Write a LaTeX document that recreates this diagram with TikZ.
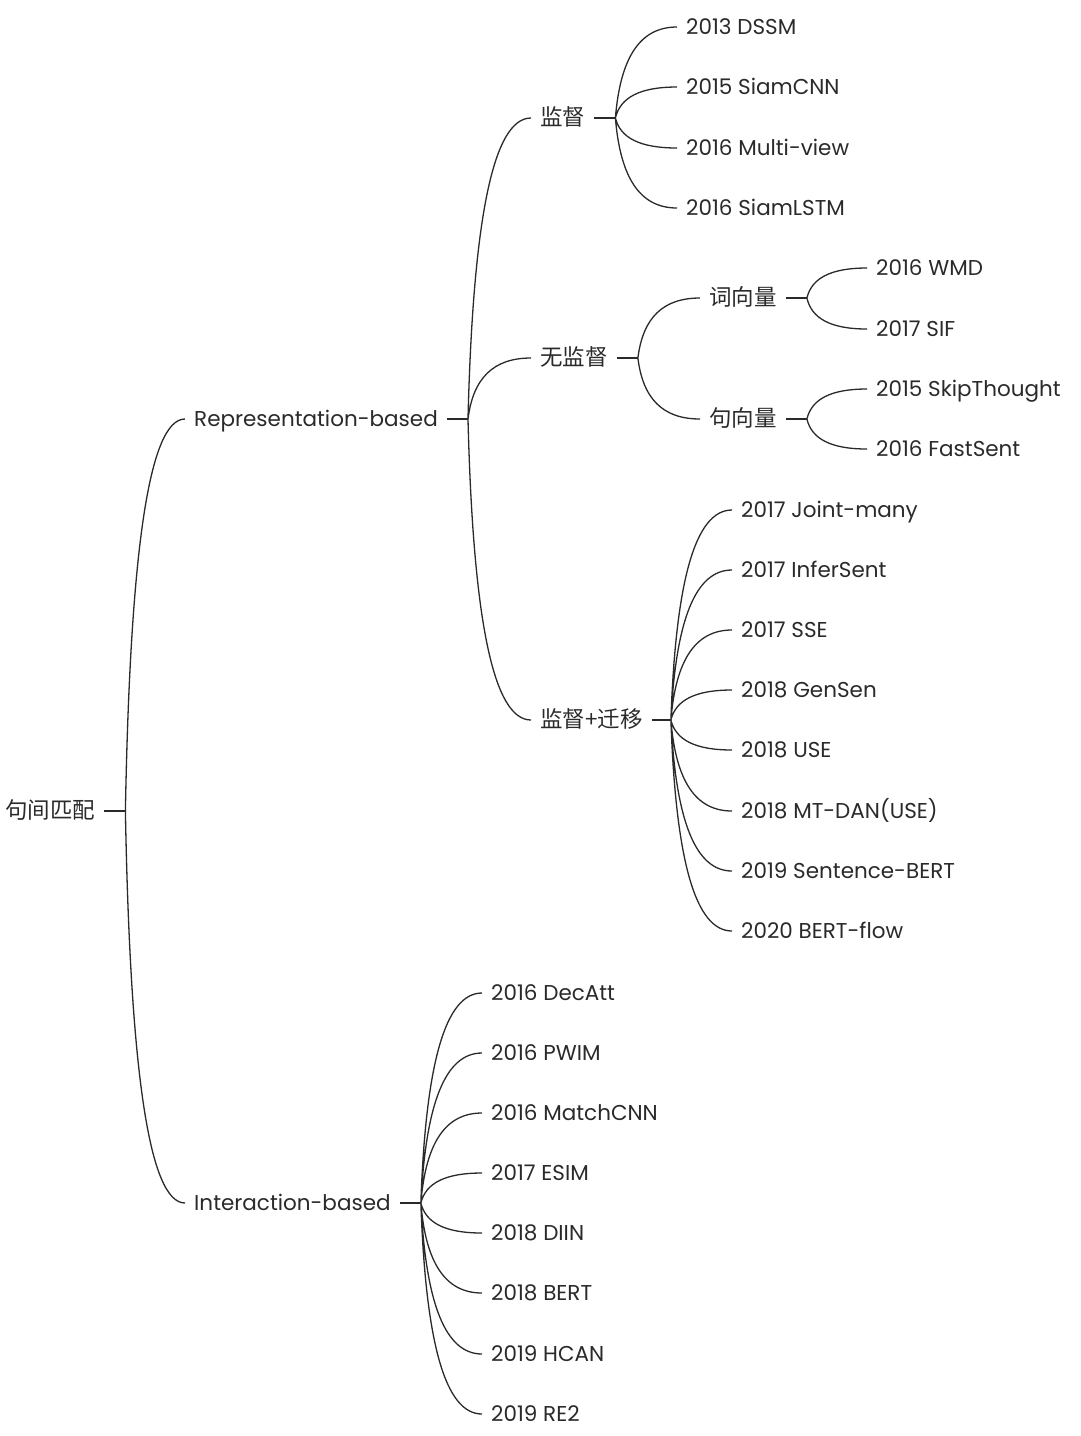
\documentclass[tikz,border=0pt]{standalone}
\usepackage{fontspec}
\setmainfont{Poppins}
\newfontfamily\cjk{Noto Sans CJK SC}
\usetikzlibrary{calc}
\definecolor{ink}{HTML}{2A2A2A}

\begin{document}
\begin{tikzpicture}[x=1pt,y=-1pt]
  \tikzstyle{topic}=[anchor=west,inner xsep=9pt,inner ysep=0pt,text height=16pt,text depth=2pt,text=ink,font=\fontsize{21.5}{25}\selectfont]
  \tikzstyle{zh}=[topic,font=\cjk\fontsize{22.5}{25}\selectfont]
  \tikzstyle{twig}=[to path={let \p1=(\tikztostart), \p2=(\tikztotarget) in
    .. controls (\x1+0.08*\x2-0.08*\x1, \y1+0.667*\y2-0.667*\y1) and (0.4*\x2+0.6*\x1, \y2) .. (\tikztotarget)}]
  \useasboundingbox (0,0) rectangle (1080,1436);
  % root and first level
  \node[zh] (R) at (-4,811) {句间匹配};
  \node[topic] (A_1) at (185,419) {Representation-based};
  \node[topic] (A_2) at (185,1203) {Interaction-based};
  % representation-based
  \node[zh] (B_1) at (531,118) {监督};
  \node[zh] (B_2) at (531,358) {无监督};
  \node[zh] (B_3) at (531,720) {监督+迁移};
  \node[topic] (C_1) at (677,27)  {2013 DSSM};
  \node[topic] (C_2) at (677,87)  {2015 SiamCNN};
  \node[topic] (C_3) at (677,148) {2016 Multi-view};
  \node[topic] (C_4) at (677,208) {2016 SiamLSTM};
  \node[zh] (D_1) at (700,298) {词向量};
  \node[zh] (D_2) at (700,419) {句向量};
  \node[topic] (E_1) at (867,268) {2016 WMD};
  \node[topic] (E_2) at (867,329) {2017 SIF};
  \node[topic] (E_3) at (867,389) {2015 SkipThought};
  \node[topic] (E_4) at (867,449) {2016 FastSent};
  \node[topic] (F_1) at (732,510) {2017 Joint-many};
  \node[topic] (F_2) at (732,570) {2017 InferSent};
  \node[topic] (F_3) at (732,630) {2017 SSE};
  \node[topic] (F_4) at (732,690) {2018 GenSen};
  \node[topic] (F_5) at (732,750) {2018 USE};
  \node[topic] (F_6) at (732,811) {2018 MT-DAN(USE)};
  \node[topic] (F_7) at (732,871) {2019 Sentence-BERT};
  \node[topic] (F_8) at (732,931) {2020 BERT-flow};
  % interaction-based
  \node[topic] (G_1) at (482,993)  {2016 DecAtt};
  \node[topic] (G_2) at (482,1053) {2016 PWIM};
  \node[topic] (G_3) at (482,1113) {2016 MatchCNN};
  \node[topic] (G_4) at (482,1173) {2017 ESIM};
  \node[topic] (G_5) at (482,1233) {2018 DIIN};
  \node[topic] (G_6) at (482,1293) {2018 BERT};
  \node[topic] (G_7) at (482,1354) {2019 HCAN};
  \node[topic] (G_8) at (482,1414) {2019 RE2};
  % junctions
  \coordinate (R_j)   at ([xshift=21pt]R.east);
  \coordinate (A_1j)  at ([xshift=21pt]A_1.east);
  \coordinate (A_2j)  at ([xshift=21pt]A_2.east);
  \coordinate (B_1j)  at ([xshift=21pt]B_1.east);
  \coordinate (B_2j)  at ([xshift=21pt]B_2.east);
  \coordinate (B_3j)  at ([xshift=19pt]B_3.east);
  \coordinate (D_1j)  at ([xshift=21pt]D_1.east);
  \coordinate (D_2j)  at ([xshift=21pt]D_2.east);
  \begin{scope}[draw=ink,line width=1.3pt]
    \draw (R) -- (R_j) (A_1) -- (A_1j) (A_2) -- (A_2j);
    \draw (B_1) -- (B_1j) (B_2) -- (B_2j) (B_3) -- (B_3j);
    \draw (D_1) -- (D_1j) (D_2) -- (D_2j);
    \draw (R_j) to[twig] (A_1.west) (R_j) to[twig] (A_2.west);
    \draw (A_1j) to[twig] (B_1.west) (A_1j) to[twig] (B_2.west) (A_1j) to[twig] (B_3.west);
    \draw (B_1j) to[twig] (C_1.west) (B_1j) to[twig] (C_2.west)
          (B_1j) to[twig] (C_3.west) (B_1j) to[twig] (C_4.west);
    \draw (B_2j) to[twig] (D_1.west) (B_2j) to[twig] (D_2.west);
    \draw (D_1j) to[twig] (E_1.west) (D_1j) to[twig] (E_2.west);
    \draw (D_2j) to[twig] (E_3.west) (D_2j) to[twig] (E_4.west);
    \draw (B_3j) to[twig] (F_1.west) (B_3j) to[twig] (F_2.west)
          (B_3j) to[twig] (F_3.west) (B_3j) to[twig] (F_4.west)
          (B_3j) to[twig] (F_5.west) (B_3j) to[twig] (F_6.west)
          (B_3j) to[twig] (F_7.west) (B_3j) to[twig] (F_8.west);
    \draw (A_2j) to[twig] (G_1.west) (A_2j) to[twig] (G_2.west)
          (A_2j) to[twig] (G_3.west) (A_2j) to[twig] (G_4.west)
          (A_2j) to[twig] (G_5.west) (A_2j) to[twig] (G_6.west)
          (A_2j) to[twig] (G_7.west) (A_2j) to[twig] (G_8.west);
  \end{scope}
\end{tikzpicture}
\end{document}
